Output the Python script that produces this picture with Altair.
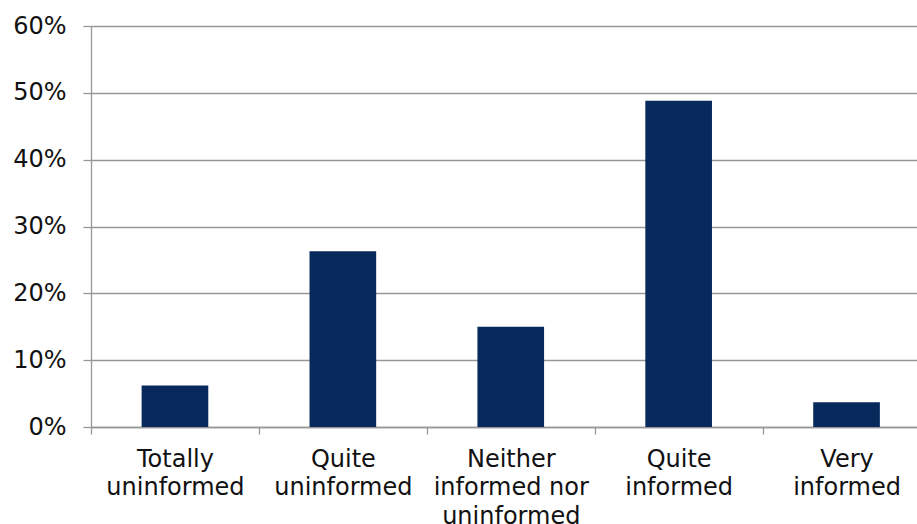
import altair as alt
import pandas as pd

# Survey answers: how informed respondents feel
categories = [
    "Totally uninformed",
    "Quite uninformed",
    "Neither informed nor uninformed",
    "Quite informed",
    "Very informed",
]
label_lines = [
    ["Totally", "uninformed"],
    ["Quite", "uninformed"],
    ["Neither", "informed nor", "uninformed"],
    ["Quite", "informed"],
    ["Very", "informed"],
]
shares = [0.062, 0.263, 0.150, 0.488, 0.037]

df = pd.DataFrame({"category": categories, "share": shares})

# Multi-line axis labels built from the lookup above
label_expr = "''"
for name, lines in reversed(list(zip(categories, label_lines))):
    arr = "[" + ",".join("'" + s + "'" for s in lines) + "]"
    label_expr = f"datum.value === '{name}' ? {arr} : ({label_expr})"

FONT = "DejaVu Sans"
GRID = "#979797"
SIZE = 24

chart = (
    alt.Chart(df)
    .mark_bar(color="#08295b", width=alt.RelativeBandSize(0.397))
    .encode(
        x=alt.X(
            "category:N",
            sort=categories,
            title=None,
            scale=alt.Scale(paddingInner=0, paddingOuter=0, range=[0, 839.5]),
            axis=alt.Axis(
                labelAngle=0,
                labelExpr=label_expr,
                labelFont=FONT,
                labelFontSize=SIZE,
                labelColor="#111111",
                labelLineHeight=28.5,
                labelPadding=13,
                labelBaseline="top",
                tickBand="extent",
                tickSize=7,
                tickColor=GRID,
                tickWidth=1.3,
                domainColor=GRID,
                domainWidth=1.3,
                grid=False,
            ),
        ),
        y=alt.Y(
            "share:Q",
            title=None,
            scale=alt.Scale(domain=[0, 0.6], nice=False),
            axis=alt.Axis(
                values=[0, 0.1, 0.2, 0.3, 0.4, 0.5, 0.6],
                format=".0%",
                labelFont=FONT,
                labelFontSize=SIZE,
                labelColor="#111111",
                labelPadding=17,
                tickSize=8,
                tickColor=GRID,
                tickWidth=1.3,
                domainColor=GRID,
                domainWidth=1.3,
                grid=True,
                gridColor=GRID,
                gridWidth=1.3,
            ),
        ),
    )
    .properties(
        width=826,
        height=401,
        autosize=alt.AutoSizeParams(type="none"),
        padding={"left": 91, "top": 26, "right": 0, "bottom": 97},
    )
    .configure_view(stroke=None)
    .configure(background="white")
)

chart.save("out.html", embed_options={"renderer": "svg", "actions": False})
